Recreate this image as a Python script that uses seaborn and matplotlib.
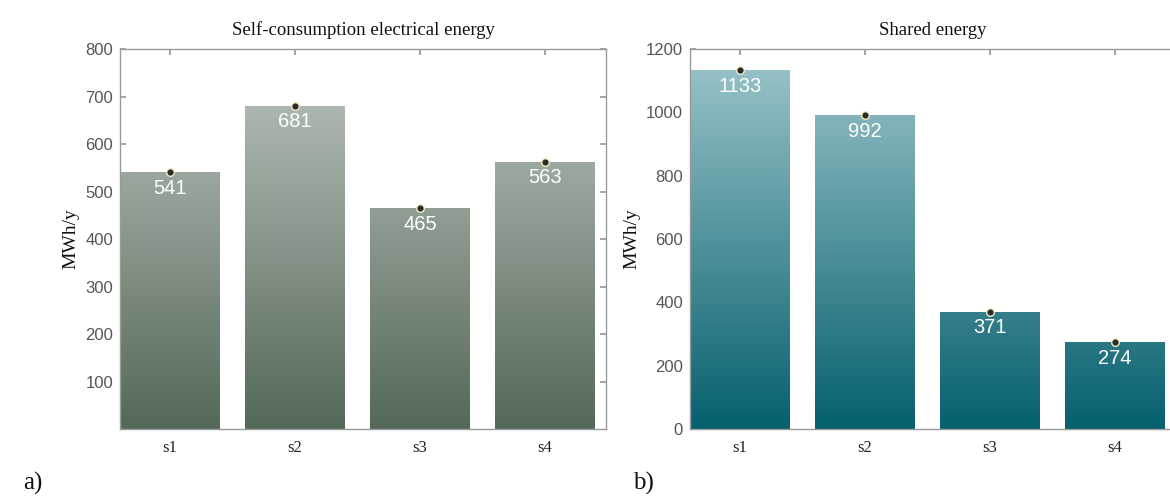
import numpy as np
import pandas as pd
import matplotlib
matplotlib.use("Agg")
import matplotlib.pyplot as plt
from matplotlib.colors import LinearSegmentedColormap
import seaborn as sns

sns.set_theme(style="white")
plt.rcParams['font.family'] = ['Liberation Sans', 'DejaVu Sans']

scenarios = ["s1", "s2", "s3", "s4"]
self_consumption = [541, 681, 465, 563]
shared = [1133, 992, 371, 274]

left_ticks = [100, 200, 300, 400, 500, 600, 700, 800]
right_ticks = [0, 200, 400, 600, 800, 1000, 1200]

SERIF = "Liberation Serif"


def gradient_bars(ax, top_col, bot_col):
    cmap = LinearSegmentedColormap.from_list("g", [bot_col, top_col])
    ylim = ax.get_ylim()
    grad = np.linspace(0, 1, 256).reshape(-1, 1)
    for p in list(ax.patches):
        x0, w = p.get_x(), p.get_width()
        im = ax.imshow(grad, cmap=cmap, origin="lower", aspect="auto",
                       extent=[x0, x0 + w, ylim[0], ylim[1]], zorder=2,
                       vmin=0, vmax=1)
        im.set_clip_path(p)
        p.set_facecolor("none")
        p.set_edgecolor((1, 1, 1, 0.35))
        p.set_linewidth(0.8)


def panel(ax, vals, ylim, ticks, title, top_col, bot_col):
    df = pd.DataFrame({"s": scenarios, "v": vals})
    sns.barplot(data=df, x="s", y="v", ax=ax, width=0.8, color=bot_col,
                saturation=1, zorder=2)
    ax.set_ylim(*ylim)
    ax.set_xlim(-0.4, 3.49)
    gradient_bars(ax, top_col, bot_col)
    ax.set_xlim(-0.4, 3.49)
    ax.set_ylim(*ylim)
    sns.scatterplot(data=df, x="s", y="v", ax=ax, s=30, color="#2b2b2b",
                    edgecolor="#f3ecc0", linewidth=1.0, zorder=5)
    off = (ylim[1] - ylim[0]) * 0.043
    for i, v in enumerate(vals):
        ax.text(i, v - off, str(v), ha="center", va="center", color="white",
                fontsize=14.5, zorder=6)
    ax.set_yticks(ticks)
    ax.set_yticklabels([str(t) for t in ticks], color="#555555", fontsize=12)
    ax.set_xticks(range(len(scenarios)))
    ax.set_xticklabels(scenarios, fontfamily=SERIF, fontsize=12,
                       color="#222222")
    ax.set_xlabel("")
    ax.set_ylabel("MWh/y", fontfamily=SERIF, fontsize=14, color="#111111",
                  labelpad=4)
    ax.set_title(title, fontfamily=SERIF, fontsize=13.5, color="#111111",
                 pad=10)
    ax.tick_params(axis="both", direction="in", length=4, color="#999999",
                   top=True, right=True, left=True, bottom=True, pad=5)
    ax.tick_params(axis="x", pad=8)
    for sp in ax.spines.values():
        sp.set_color("#9a9a9a")
        sp.set_linewidth(1.0)


fig = plt.figure(figsize=(11.7, 4.96), dpi=100)
ax1 = fig.add_axes([0.1026, 0.135, 0.4154, 0.766])
ax2 = fig.add_axes([0.5897, 0.135, 0.4154, 0.766])

panel(ax1, self_consumption, (0, 800), left_ticks,
      "Self-consumption electrical energy", "#bcc5bf", "#546958")
panel(ax2, shared, (0, 1200), right_ticks, "Shared energy",
      "#9ec6cc", "#06606e")

fig.text(0.02, 0.012, "a)", fontfamily=SERIF, fontsize=18, color="#111111")
fig.text(0.541, 0.012, "b)", fontfamily=SERIF, fontsize=18, color="#111111")

fig.savefig("out.png", dpi=100)
